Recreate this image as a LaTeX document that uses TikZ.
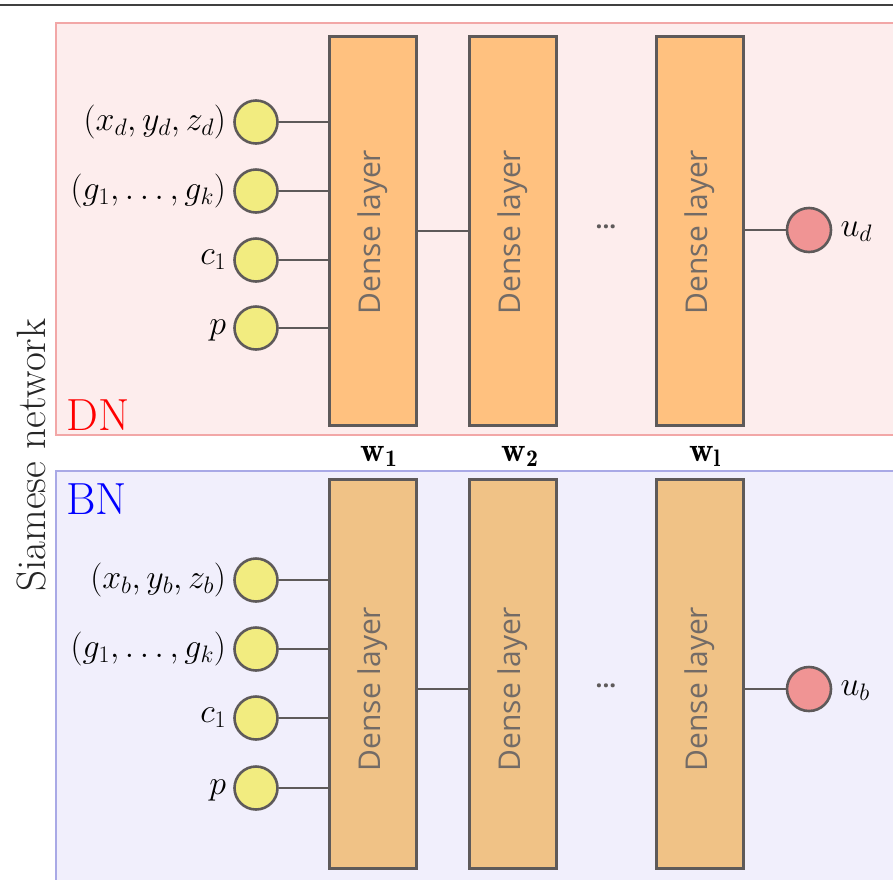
\RequirePackage{fix-cm}
\documentclass[tikz,border=0pt]{standalone}
\usepackage{fontspec}
\newfontfamily\layerfont{Open Sans}
\usetikzlibrary{calc}

\definecolor{dnfill}{HTML}{FDEDED}
\definecolor{dnedge}{HTML}{F2A7A7}
\definecolor{bnfill}{HTML}{F1EFFC}
\definecolor{bnedge}{HTML}{A9A9E6}
\definecolor{densetop}{HTML}{FFC17F}
\definecolor{densebot}{HTML}{F0C286}
\definecolor{edgegray}{HTML}{5E5A5A}
\definecolor{inyellow}{HTML}{F2EC80}
\definecolor{outpink}{HTML}{F09494}
\definecolor{layertext}{HTML}{736B66}

\tikzset{
  denseblock/.style={draw=edgegray, line width=3pt, minimum width=87pt,
    minimum height=389pt, inner sep=0pt},
  layerlabel/.style={text=layertext, font=\layerfont\fontsize{30}{33}\selectfont,
    rotate=90, inner sep=0pt},
  innode/.style={circle, draw=edgegray, line width=2.6pt, fill=inyellow,
    minimum size=43pt, inner sep=0pt},
  outnode/.style={circle, draw=edgegray, line width=2.6pt, fill=outpink,
    minimum size=44pt, inner sep=0pt},
  wire/.style={draw=edgegray, line width=2.4pt},
  mathlbl/.style={font=\fontsize{34}{38}\selectfont, inner sep=0pt},
  dots/.style={text=edgegray, font=\layerfont\bfseries\fontsize{24}{26}\selectfont},
}

\begin{document}
\begin{tikzpicture}[x=1pt, y=-1pt]
  \useasboundingbox (0,0) rectangle (893,879);
  \clip (0,0) rectangle (893,879);

  % rule across the top
  \draw[line width=1.6pt, draw=black!75] (-5,5) -- (900,5);

  % the two branch panels
  \draw[fill=dnfill, draw=dnedge, line width=1.2pt] (56,23) rectangle (910,435);
  \draw[fill=bnfill, draw=bnedge, line width=1.2pt] (56,471) rectangle (910,900);

  \node[text=red, font=\fontsize{45}{50}\selectfont, anchor=base west, inner sep=0pt]
    (dnname) at (66,430) {DN};
  \node[text=blue, font=\fontsize{45}{50}\selectfont, anchor=base west, inner sep=0pt]
    (bnname) at (66,514) {BN};

  \node[rotate=90, font=\fontsize{41}{45}\selectfont, text=black!85, inner sep=0pt]
    (siam) at (31,455) {Siamese network};

  % ---- DN branch ----
  \node[denseblock, fill=densetop] (d1) at (373,231) {};
  \node[denseblock, fill=densetop] (d2) at (513,231) {};
  \node[denseblock, fill=densetop] (d3) at (699.5,231) {};
  \node[layerlabel] (d1t) at (373,232) {Dense layer};
  \node[layerlabel] (d2t) at (513,232) {Dense layer};
  \node[layerlabel] (d3t) at (699.5,232) {Dense layer};
  \node[dots] (ddots) at (606,227) {...};

  \node[innode] (dx) at (256,122) {};
  \node[innode] (dg) at (256,191) {};
  \node[innode] (dc) at (256,260) {};
  \node[innode] (dp) at (256,328) {};
  \node[outnode] (du) at (809,230) {};

  \node[mathlbl, anchor=east] at ($(dx.west)+(-7,0)$) {$(x_d, y_d, z_d)$};
  \node[mathlbl, anchor=east] at ($(dg.west)+(-7,0)$) {$(g_1, \ldots, g_k)$};
  \node[mathlbl, anchor=east] at ($(dc.west)+(-7,0)$) {$c_1$};
  \node[mathlbl, anchor=east] at ($(dp.west)+(-7,2)$) {$p$};
  \node[mathlbl, anchor=west] at ($(du.east)+(8,2)$) {$u_d$};

  \foreach \n in {dx,dg,dc,dp} \draw[wire] (\n) -- (\n -| d1.west);
  \draw[wire] (d1.east |- 0,231) -- (d2.west |- 0,231);
  \draw[wire] (du) -- (du -| d3.east);

  % ---- BN branch ----
  \node[denseblock, fill=densebot] (b1) at (373,673.5) {};
  \node[denseblock, fill=densebot] (b2) at (513,673.5) {};
  \node[denseblock, fill=densebot] (b3) at (699.5,673.5) {};
  \node[layerlabel] (b1t) at (373,689) {Dense layer};
  \node[layerlabel] (b2t) at (513,689) {Dense layer};
  \node[layerlabel] (b3t) at (699.5,689) {Dense layer};
  \node[dots] (bdots) at (606,686) {...};

  \node[innode] (bx) at (256,580) {};
  \node[innode] (bg) at (256,649) {};
  \node[innode] (bc) at (256,718) {};
  \node[innode] (bp) at (256,788) {};
  \node[outnode] (bu) at (809,689) {};

  \node[mathlbl, anchor=east] at ($(bx.west)+(-7,0)$) {$(x_b, y_b, z_b)$};
  \node[mathlbl, anchor=east] at ($(bg.west)+(-7,0)$) {$(g_1, \ldots, g_k)$};
  \node[mathlbl, anchor=east] at ($(bc.west)+(-7,0)$) {$c_1$};
  \node[mathlbl, anchor=east] at ($(bp.west)+(-7,2)$) {$p$};
  \node[mathlbl, anchor=west] at ($(bu.east)+(8,2)$) {$u_b$};

  \foreach \n in {bx,bg,bc,bp} \draw[wire] (\n) -- (\n -| b1.west);
  \draw[wire] (b1.east |- 0,689) -- (b2.west |- 0,689);
  \draw[wire] (bu) -- (bu -| b3.east);

  % shared weights between the branches
  \node[mathlbl] (w1) at (379,456) {$\mathbf{w}_\mathbf{1}$};
  \node[mathlbl] (w2) at (520,456) {$\mathbf{w}_\mathbf{2}$};
  \node[mathlbl] (wl) at (705,456) {$\mathbf{w}_\mathbf{l}$};
\end{tikzpicture}
\end{document}
